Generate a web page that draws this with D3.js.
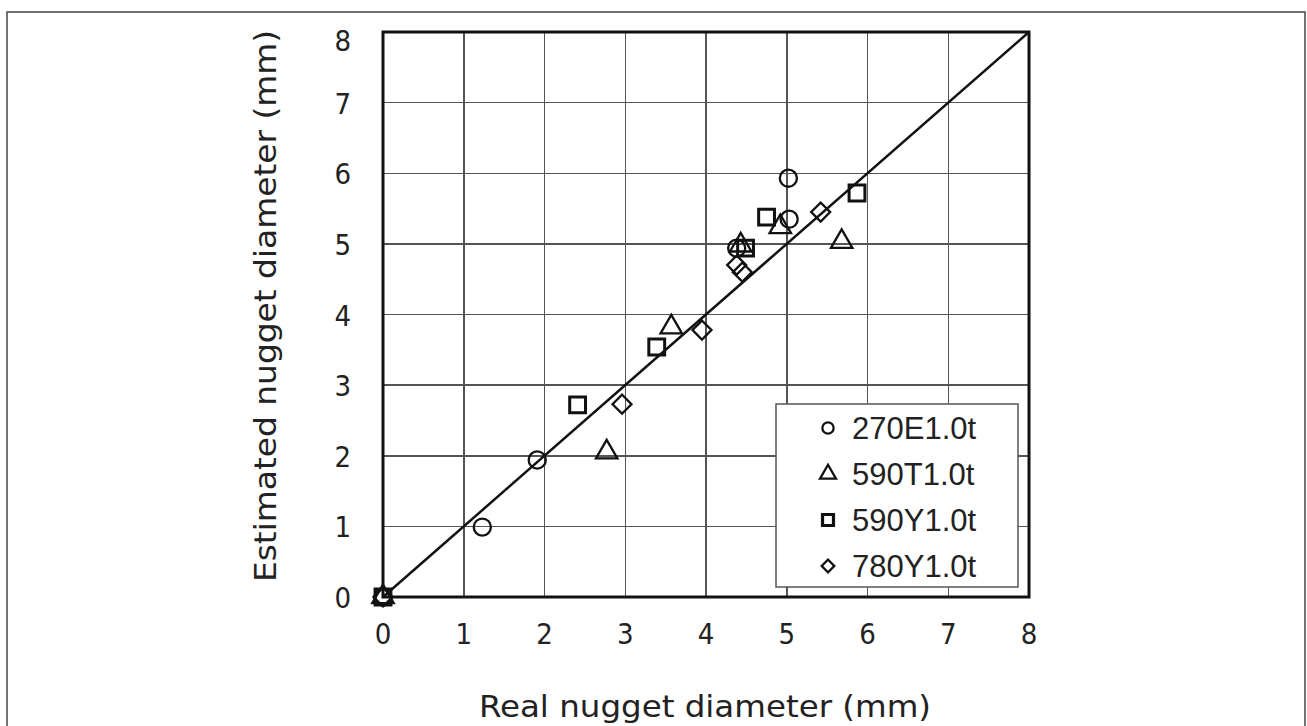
<!DOCTYPE html>
<html>
<head>
<meta charset="utf-8">
<script src="https://cdn.jsdelivr.net/npm/d3@7"></script>
<style>
	body { margin: 0; background: #fff; }
	svg { display: block; }
	.tick-label { font-family: "DejaVu Sans Condensed", "Liberation Sans Narrow", "Liberation Sans", sans-serif; font-size: 29px; fill: #222; }
	.title { font-family: "DejaVu Sans Condensed", "Liberation Sans Narrow", "Liberation Sans", sans-serif; font-size: 31px; fill: #222; }
	.legend-text { font-family: "Liberation Sans", Arial, sans-serif; font-size: 31px; fill: #222; }
	.grid line { stroke: #555; stroke-width: 1.5; shape-rendering: crispEdges; }
</style>
</head>
<body>
<svg></svg>
<script>
	// data
	var ticks = [0, 1, 2, 3, 4, 5, 6, 7, 8];
	var seriesNames = ["270E1.0t", "590T1.0t", "590Y1.0t", "780Y1.0t"];

	var x270E = [0, 1.23, 1.91, 4.38, 5.02, 5.03];
	var y270E = [0, 0.99, 1.94, 4.94, 5.93, 5.35];

	var x590T = [0, 2.77, 3.57, 4.43, 4.92, 5.68];
	var y590T = [0, 2.05, 3.82, 4.98, 5.24, 5.03];

	var x590Y = [0, 2.41, 3.39, 4.49, 4.75, 5.87];
	var y590Y = [0, 2.72, 3.54, 4.94, 5.38, 5.72];

	var x780Y = [0, 2.96, 3.95, 4.38, 4.45, 5.42];
	var y780Y = [0, 2.73, 3.78, 4.70, 4.60, 5.45];

	var W = 1307, H = 726;
	var plot = { left: 383, right: 1029, top: 32, bottom: 597 };

	var svg = d3.select("svg").attr("width", W).attr("height", H);

	// outer frame
	svg.append("rect")
		.attr("x", 7).attr("y", 12)
		.attr("width", 1298).attr("height", 740)
		.attr("fill", "none").attr("stroke", "#444").attr("stroke-width", 1.5);

	var xScale = d3.scaleLinear().domain([0, 8]).range([plot.left, plot.right]);
	var yScale = d3.scaleLinear().domain([0, 8]).range([plot.bottom, plot.top]);

	// grid
	var grid = svg.append("g").attr("class", "grid");
	grid.selectAll(".gx").data(ticks.slice(1, -1)).enter().append("line")
		.attr("x1", function (d){ return xScale(d); }).attr("x2", function (d){ return xScale(d); })
		.attr("y1", plot.top).attr("y2", plot.bottom);
	grid.selectAll(".gy").data(ticks.slice(1, -1)).enter().append("line")
		.attr("y1", function (d){ return yScale(d); }).attr("y2", function (d){ return yScale(d); })
		.attr("x1", plot.left).attr("x2", plot.right);

	// 1:1 line
	svg.append("line")
		.attr("x1", xScale(0)).attr("y1", yScale(0))
		.attr("x2", xScale(8)).attr("y2", yScale(8))
		.attr("stroke", "#111").attr("stroke-width", 2.5);

	// plot border
	svg.append("rect")
		.attr("x", plot.left).attr("y", plot.top)
		.attr("width", plot.right - plot.left).attr("height", plot.bottom - plot.top)
		.attr("fill", "none").attr("stroke", "#111").attr("stroke-width", 3);

	// tick labels
	svg.selectAll(".xl").data(ticks).enter().append("text")
		.attr("class", "tick-label")
		.attr("x", function (d){ return xScale(d); })
		.attr("y", 644)
		.attr("text-anchor", "middle")
		.text(function (d){ return d; });
	svg.selectAll(".yl").data(ticks).enter().append("text")
		.attr("class", "tick-label")
		.attr("x", 351)
		.attr("y", function (d){ return Math.max(yScale(d), 40) + 11; })
		.attr("text-anchor", "end")
		.text(function (d){ return d; });

	// axis titles
	svg.append("text").attr("class", "title")
		.attr("x", 705).attr("y", 717)
		.attr("text-anchor", "middle")
		.attr("textLength", 452).attr("lengthAdjust", "spacingAndGlyphs")
		.text("Real nugget diameter (mm)");
	svg.append("text").attr("class", "title")
		.attr("transform", "translate(276,306) rotate(-90)")
		.attr("text-anchor", "middle")
		.attr("textLength", 552).attr("lengthAdjust", "spacingAndGlyphs")
		.text("Estimated nugget diameter (mm)");

	// markers
	var shapes = [
		{ type: d3.symbolCircle, size: 230, rot: 0, sw: 2.3 },
		{ type: d3.symbolTriangle, size: 200, rot: 0, sw: 2.3 },
		{ type: d3.symbolSquare, size: 250, rot: 0, sw: 3 },
		{ type: d3.symbolSquare, size: 180, rot: 45, sw: 2.3 }
	];
	var seriesX = [x270E, x590T, x590Y, x780Y];
	var seriesY = [y270E, y590T, y590Y, y780Y];

	seriesX.forEach(function (xs, s){
		var pts = xs.map(function (v, i){ return { x: v, y: seriesY[s][i] }; });
		svg.append("g").selectAll("path").data(pts).enter().append("path")
			.attr("d", d3.symbol().type(shapes[s].type).size(shapes[s].size))
			.attr("transform", function (d){ return "translate(" + xScale(d.x) + "," + yScale(d.y) + ") rotate(" + shapes[s].rot + ")"; })
			.attr("fill", "none")
			.attr("stroke", "#111")
			.attr("stroke-width", shapes[s].sw);
	});

	// legend
	var legend = svg.append("g").attr("transform", "translate(776,404)");
	legend.append("rect")
		.attr("width", 242).attr("height", 183)
		.attr("fill", "#fff").attr("stroke", "#555").attr("stroke-width", 1.5);
	var legendSizes = [100, 110, 120, 80];
	seriesNames.forEach(function (name, i){
		var cy = 24 + i * 46;
		legend.append("path")
			.attr("d", d3.symbol().type(shapes[i].type).size(legendSizes[i]))
			.attr("transform", "translate(52," + cy + ") rotate(" + shapes[i].rot + ")")
			.attr("fill", "none").attr("stroke", "#111").attr("stroke-width", i == 2 ? 3.2 : 2.3);
		legend.append("text").attr("class", "legend-text")
			.attr("x", 76).attr("y", cy + 11)
			.text(name);
	});
</script>
</body>
</html>
